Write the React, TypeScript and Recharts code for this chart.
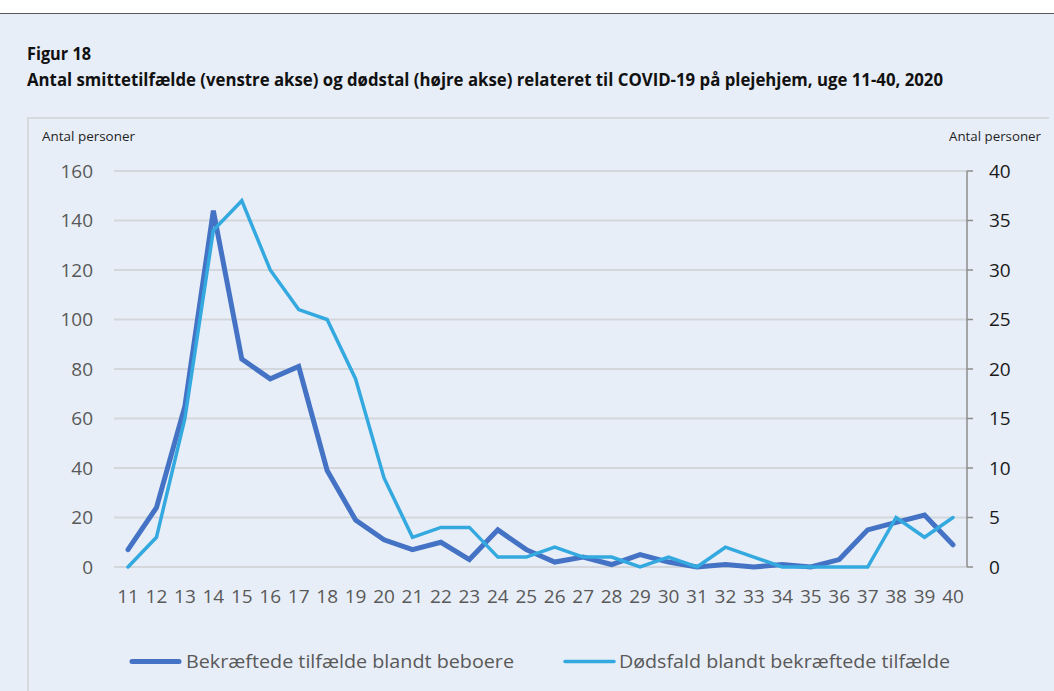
import React from 'react';
import { LineChart, Line, XAxis, YAxis, CartesianGrid } from 'recharts';

// Week numbers 11-40 of 2020
const weeks = [
  '11', '12', '13', '14', '15', '16', '17', '18', '19', '20',
  '21', '22', '23', '24', '25', '26', '27', '28', '29', '30',
  '31', '32', '33', '34', '35', '36', '37', '38', '39', '40',
];

// Confirmed cases among residents (left axis)
const cases = [
  7, 24, 65, 144, 84, 76, 81, 39, 19, 11,
  7, 10, 3, 15, 7, 2, 4, 1, 5, 2,
  0, 1, 0, 1, 0, 3, 15, 18, 21, 9,
];

// Deaths among confirmed cases (right axis)
const deaths = [
  0, 3, 15, 34, 37, 30, 26, 25, 19, 9,
  3, 4, 4, 1, 1, 2, 1, 1, 0, 1,
  0, 2, 1, 0, 0, 0, 0, 5, 3, 5,
];

const leftTicks = [0, 20, 40, 60, 80, 100, 120, 140, 160];
const rightTicks = [0, 5, 10, 15, 20, 25, 30, 35, 40];

const seriesNames = ['Bekræftede tilfælde blandt beboere', 'Dødsfald blandt bekræftede tilfælde'];

const data = weeks.map((w, i) => ({ week: w, cases: cases[i], deaths: deaths[i] }));

const BG = '#e8eef7';
const DARK = '#4472c4';
const LIGHT = '#33a9e0';
const GRID = '#d3d6db';
const TEXT = '#595959';
const FONT = '"Open Sans", "Noto Sans", sans-serif';

export default function App() {
  return (
    <div style={{ position: 'absolute', left: 0, top: 0, width: 1054, height: 691, background: '#ffffff', overflow: 'hidden' }}>
      <div style={{ position: 'absolute', left: 0, top: 13, width: 1054, height: 678, background: BG, borderTop: '1px solid #595959' }} />
      <div style={{ position: 'absolute', left: 27, top: 117, width: 1020, height: 600, borderTop: '2px solid #d6d9de', borderLeft: '2px solid #d6d9de' }} />

      <div style={{ position: 'absolute', left: 0, top: 0 }}>
        <LineChart width={1054} height={691} data={data} margin={{ top: 171, right: 27, bottom: 94, left: 54 }}>
          <CartesianGrid yAxisId="left" vertical={false} stroke={GRID} strokeWidth={2} />
          <XAxis
            dataKey="week"
            interval={0}
            padding={{ left: 14, right: 14 }}
            axisLine={false}
            tickLine={false}
            height={30}
            tickMargin={17}
            tick={{ fill: TEXT, fontSize: 19, fontFamily: FONT }}
          />
          <YAxis
            yAxisId="left"
            domain={[0, 160]}
            ticks={leftTicks}
            width={60}
            axisLine={false}
            tickLine={false}
            tickMargin={15}
            tick={{ fill: TEXT, fontSize: 19, fontFamily: FONT }}
          />
          <YAxis
            yAxisId="right"
            orientation="right"
            domain={[0, 40]}
            ticks={rightTicks}
            width={60}
            axisLine={{ stroke: '#8c8c8c', strokeWidth: 1.5 }}
            tickLine={{ stroke: '#8c8c8c', strokeWidth: 1.5 }}
            tickSize={6}
            tickMargin={16}
            tick={{ fill: '#1a1a1a', fontSize: 19, fontFamily: FONT }}
          />
          <Line
            yAxisId="left"
            type="linear"
            dataKey="cases"
            name={seriesNames[0]}
            stroke={DARK}
            strokeWidth={5}
            strokeLinecap="round"
            dot={false}
            activeDot={false}
            isAnimationActive={false}
          />
          <Line
            yAxisId="right"
            type="linear"
            dataKey="deaths"
            name={seriesNames[1]}
            stroke={LIGHT}
            strokeWidth={3.5}
            strokeLinecap="round"
            dot={false}
            activeDot={false}
            isAnimationActive={false}
          />
        </LineChart>
      </div>

      <svg width={1054} height={691} style={{ position: 'absolute', left: 0, top: 0, pointerEvents: 'none' }}>
        <text x={27} y={60} fontFamily={FONT} fontWeight={700} fontSize={17} fill="#111" textLength={64} lengthAdjust="spacingAndGlyphs">
          Figur 18
        </text>
        <text x={27} y={86} fontFamily={FONT} fontWeight={700} fontSize={17} fill="#111" textLength={916} lengthAdjust="spacingAndGlyphs">
          Antal smittetilfælde (venstre akse) og dødstal (højre akse) relateret til COVID-19 på plejehjem, uge 11-40, 2020
        </text>
        <text x={42} y={141} fontFamily={FONT} fontSize={13} fill="#1f1f1f" textLength={93} lengthAdjust="spacingAndGlyphs">
          Antal personer
        </text>
        <text x={1041} y={141} textAnchor="end" fontFamily={FONT} fontSize={13} fill="#1f1f1f" textLength={92} lengthAdjust="spacingAndGlyphs">
          Antal personer
        </text>

        <line x1={132} y1={661.5} x2={179} y2={661.5} stroke={DARK} strokeWidth={5} strokeLinecap="round" />
        <text x={186} y={668} fontFamily={FONT} fontSize={19} fill={TEXT} textLength={328} lengthAdjust="spacingAndGlyphs">
          {seriesNames[0]}
        </text>
        <line x1={565} y1={661.5} x2={614} y2={661.5} stroke={LIGHT} strokeWidth={3.5} strokeLinecap="round" />
        <text x={619} y={668} fontFamily={FONT} fontSize={19} fill={TEXT} textLength={331} lengthAdjust="spacingAndGlyphs">
          {seriesNames[1]}
        </text>
      </svg>
    </div>
  );
}
